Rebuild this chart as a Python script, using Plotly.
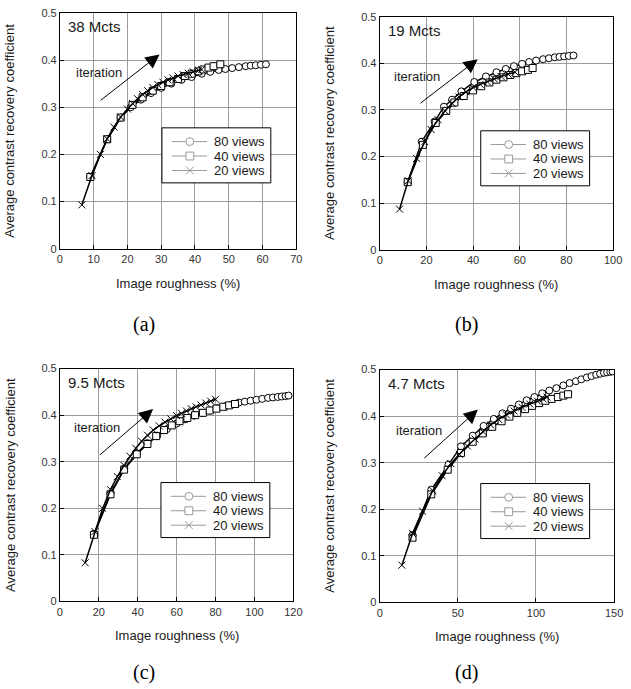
import plotly.graph_objects as go

# ---------------- data ----------------
panel_titles = ["38 Mcts", "19 Mcts", "9.5 Mcts", "4.7 Mcts"]
captions = ["(a)", "(b)", "(c)", "(d)"]
series_names = ["80 views", "40 views", "20 views"]
x_ranges = [[0, 70], [0, 100], [0, 120], [0, 150]]
x_dticks = [10, 20, 20, 50]

# Panel (a) 38 Mcts
a80_x = [9.0, 14.0, 18.0, 21.0, 24.0, 27.0, 30.0, 33.0, 36.0, 39.0, 42.0, 44.5, 47.0, 49.0, 51.0, 53.0, 55.0, 56.5, 58.0, 59.5, 61.0]
a80_y = [0.152, 0.232, 0.278, 0.300, 0.316, 0.330, 0.341, 0.350, 0.358, 0.364, 0.371, 0.375, 0.379, 0.381, 0.383, 0.385, 0.387, 0.388, 0.389, 0.390, 0.391]
a40_x = [9.0, 14.0, 18.0, 21.5, 24.5, 27.5, 30.0, 32.5, 35.0, 37.0, 39.0, 41.0, 42.5, 44.0, 45.5, 47.5]
a40_y = [0.152, 0.232, 0.278, 0.305, 0.321, 0.335, 0.345, 0.353, 0.360, 0.366, 0.371, 0.376, 0.380, 0.384, 0.387, 0.391]
a20_x = [6.5, 9.5, 12.0, 14.0, 16.0, 18.0, 20.0, 21.5, 23.0, 24.5, 26.0, 27.5, 29.0, 30.5, 32.0, 33.5, 35.0, 36.5, 38.0, 39.5, 41.0, 42.0]
a20_y = [0.093, 0.155, 0.200, 0.233, 0.258, 0.279, 0.296, 0.308, 0.318, 0.327, 0.335, 0.342, 0.348, 0.353, 0.358, 0.362, 0.366, 0.369, 0.372, 0.375, 0.378, 0.380]

# Panel (b) 19 Mcts
b80_x = [12.0, 18.0, 23.5, 27.5, 31.0, 35.0, 40.5, 45.5, 50.0, 54.0, 57.5, 61.0, 64.0, 67.0, 70.0, 72.5, 75.0, 77.0, 79.0, 81.0, 83.0]
b80_y = [0.145, 0.232, 0.275, 0.307, 0.322, 0.340, 0.360, 0.372, 0.381, 0.388, 0.394, 0.399, 0.403, 0.406, 0.409, 0.411, 0.413, 0.414, 0.415, 0.416, 0.417]
b40_x = [12.0, 18.5, 24.0, 28.5, 32.0, 36.0, 40.0, 43.5, 47.0, 50.0, 53.0, 56.0, 58.5, 61.0, 63.5, 65.5]
b40_y = [0.145, 0.225, 0.272, 0.298, 0.316, 0.330, 0.342, 0.351, 0.359, 0.365, 0.370, 0.375, 0.379, 0.383, 0.386, 0.390]
b20_x = [8.5, 12.2, 15.8, 19.3, 22.0, 25.0, 28.0, 31.0, 34.0, 37.0, 40.0, 43.0, 46.0, 49.0, 52.0, 55.0, 58.0]
b20_y = [0.087, 0.148, 0.196, 0.232, 0.258, 0.279, 0.298, 0.314, 0.328, 0.339, 0.348, 0.355, 0.361, 0.367, 0.372, 0.377, 0.381]

# Panel (c) 9.5 Mcts
c80_x = [17.5, 26.0, 33.0, 39.5, 45.0, 50.0, 55.0, 60.0, 64.5, 69.0, 73.0, 77.0, 81.0, 85.0, 88.5, 92.0, 95.0, 98.0, 101.0, 104.0, 107.0, 109.5, 112.0, 114.0, 116.0, 117.5]
c80_y = [0.145, 0.232, 0.285, 0.318, 0.340, 0.356, 0.370, 0.382, 0.391, 0.399, 0.405, 0.410, 0.415, 0.419, 0.423, 0.427, 0.429, 0.431, 0.433, 0.435, 0.437, 0.438, 0.439, 0.440, 0.441, 0.442]
c40_x = [17.5, 26.0, 33.0, 39.5, 45.0, 49.5, 53.5, 57.5, 61.5, 65.5, 69.5, 73.5, 77.0, 80.5, 84.0, 87.0, 90.0]
c40_y = [0.143, 0.230, 0.283, 0.316, 0.338, 0.355, 0.368, 0.378, 0.387, 0.394, 0.400, 0.405, 0.410, 0.414, 0.418, 0.421, 0.424]
c20_x = [13.0, 18.0, 22.0, 26.0, 29.5, 33.0, 36.0, 39.0, 42.0, 45.0, 48.0, 51.0, 54.0, 57.0, 60.0, 62.5, 65.0, 67.5, 70.0, 72.5, 75.0, 77.5, 80.0]
c20_y = [0.083, 0.150, 0.200, 0.240, 0.268, 0.292, 0.312, 0.329, 0.344, 0.357, 0.368, 0.377, 0.385, 0.392, 0.399, 0.404, 0.409, 0.414, 0.418, 0.422, 0.426, 0.430, 0.434]

# Panel (d) 4.7 Mcts
d80_x = [21.0, 33.0, 44.0, 52.0, 59.5, 66.5, 73.0, 78.5, 84.0, 89.0, 94.0, 99.0, 104.0, 108.5, 113.0, 117.5, 121.5, 125.5, 129.0, 132.5, 135.5, 138.5, 141.0, 143.5, 145.5, 147.5, 149.0]
d80_y = [0.145, 0.242, 0.296, 0.335, 0.358, 0.379, 0.394, 0.406, 0.416, 0.425, 0.434, 0.441, 0.449, 0.455, 0.460, 0.466, 0.471, 0.475, 0.479, 0.483, 0.486, 0.489, 0.491, 0.493, 0.494, 0.495, 0.496]
d40_x = [21.0, 33.0, 43.5, 52.0, 59.5, 66.0, 72.0, 78.0, 83.0, 88.0, 93.0, 97.5, 102.0, 106.0, 110.0, 114.0, 117.5, 120.5]
d40_y = [0.139, 0.232, 0.285, 0.321, 0.345, 0.363, 0.377, 0.389, 0.399, 0.407, 0.415, 0.422, 0.428, 0.433, 0.437, 0.441, 0.444, 0.447]
d20_x = [14.2, 21.0, 27.4, 34.0, 40.0, 45.5, 51.0, 56.0, 61.0, 66.0, 71.0, 76.0, 81.0, 86.0, 91.0, 96.0, 101.0, 104.5, 107.0]
d20_y = [0.080, 0.148, 0.196, 0.240, 0.272, 0.298, 0.318, 0.336, 0.351, 0.367, 0.381, 0.393, 0.403, 0.411, 0.419, 0.426, 0.432, 0.437, 0.441]

panels = [
    [(a80_x, a80_y), (a40_x, a40_y), (a20_x, a20_y)],
    [(b80_x, b80_y), (b40_x, b40_y), (b20_x, b20_y)],
    [(c80_x, c80_y), (c40_x, c40_y), (c20_x, c20_y)],
    [(d80_x, d80_y), (d40_x, d40_y), (d20_x, d20_y)],
]

# iteration arrows: (tail_x, tail_y, head_x, head_y, label_x, label_y) in data units
arrows = [
    (11.6, 0.312, 29.5, 0.412, 11.6, 0.374),
    (16.8, 0.312, 42.0, 0.409, 16.0, 0.372),
    (19.8, 0.312, 47.9, 0.413, 19.3, 0.373),
    (27.6, 0.307, 62.8, 0.414, 25.0, 0.369),
]

# ---------------- layout geometry (pixels) ----------------
W, H = 631, 689
boxes = [(58, 299, 7, 247), (384, 622, 11, 248), (58, 296, 369, 606), (384, 623, 370, 607)]
legend_pos = [(162, 124), (487, 127), (161, 485), (487, 486)]
LEG_W, LEG_H = 111, 56
ytitle_x = [7, 333, 7, 333]
caption_pos = [(144, 324), (472, 324), (144, 678), (472, 678)]

FONT = "Liberation Sans, Arial, sans-serif"
TXT = "#1a1a1a"
GRAY = "#9a9a9a"


def px(x):
    return x / W


def py(y):
    return 1 - y / H


symbols = ["circle", "square", "x-thin-open"]
fig = go.Figure()

for p, series in enumerate(panels):
    xa = "x" if p == 0 else f"x{p+1}"
    ya = "y" if p == 0 else f"y{p+1}"
    for s, (xs, ys) in enumerate(series):
        marker = dict(symbol=symbols[s], size=7, color="white" if s < 2 else "black",
                      line=dict(color="black", width=1))
        fig.add_trace(go.Scatter(x=xs, y=ys, mode="lines+markers", xaxis=xa, yaxis=ya,
                                 line=dict(color="black", width=1.5), marker=marker,
                                 showlegend=False, name=series_names[s]))

layout = dict(width=W, height=H, margin=dict(l=0, r=0, t=0, b=0),
              paper_bgcolor="white", plot_bgcolor="white",
              font=dict(family=FONT, color=TXT, size=11), showlegend=False)

annotations = []
shapes = []
for p in range(4):
    l, r, t, b = boxes[p]
    sfx = "" if p == 0 else str(p + 1)
    axcommon = dict(showline=True, linecolor="black", linewidth=1, mirror=True,
                    showgrid=True, gridcolor="#9c9c9c", gridwidth=1,
                    ticks="inside", ticklen=4, tickcolor="black", zeroline=False,
                    tickfont=dict(family=FONT, size=11, color="#333333"))
    layout["xaxis" + sfx] = dict(domain=[l / W, r / W], anchor="y" + sfx,
                                 range=x_ranges[p], dtick=x_dticks[p], tick0=0, **axcommon)
    layout["yaxis" + sfx] = dict(domain=[1 - b / H, 1 - t / H], anchor="x" + sfx,
                                 range=[0, 0.5], dtick=0.1, tick0=0, **axcommon)
    xref = "x" + sfx
    yref = "y" + sfx
    tx, ty, hx, hy, lbx, lby = arrows[p]
    annotations.append(dict(x=hx, y=hy, ax=tx, ay=ty, xref=xref, yref=yref, axref=xref, ayref=yref,
                            text="", showarrow=True, arrowhead=2, arrowsize=2.8, arrowwidth=1,
                            arrowcolor="black"))
    annotations.append(dict(x=lbx, y=lby, xref=xref, yref=yref, text="iteration", showarrow=False,
                            font=dict(family=FONT, size=13, color=TXT)))
    annotations.append(dict(x=px(l + 6), y=py(t + 14), xref="paper", yref="paper",
                            xanchor="left", yanchor="middle", text=panel_titles[p], showarrow=False,
                            font=dict(family=FONT, size=15, color=TXT)))
    annotations.append(dict(x=px((l + r) / 2), y=py(b + 35), xref="paper", yref="paper",
                            xanchor="center", yanchor="middle", text="Image roughness (%)",
                            showarrow=False, font=dict(family=FONT, size=13, color=TXT)))
    annotations.append(dict(x=px(ytitle_x[p]), y=py((t + b) / 2), xref="paper", yref="paper",
                            xanchor="center", yanchor="middle", textangle=-90,
                            text="Average contrast recovery coefficient",
                            showarrow=False, font=dict(family=FONT, size=13, color=TXT)))
    cx, cy = caption_pos[p]
    annotations.append(dict(x=px(cx), y=py(cy), xref="paper", yref="paper",
                            xanchor="center", yanchor="middle", text=captions[p], showarrow=False,
                            font=dict(family="Liberation Serif, Times New Roman, serif", size=20,
                                      color="black")))

    # legend box drawn with shapes
    lx, ly = legend_pos[p]
    shapes.append(dict(type="rect", xref="paper", yref="paper", layer="above",
                       x0=px(lx), x1=px(lx + LEG_W), y0=py(ly), y1=py(ly + LEG_H),
                       fillcolor="white", line=dict(color="black", width=1)))
    for s in range(3):
        ry = ly + 14 + s * 14.7
        shapes.append(dict(type="line", xref="paper", yref="paper", layer="above",
                           x0=px(lx + 10), x1=px(lx + 46), y0=py(ry), y1=py(ry),
                           line=dict(color=GRAY, width=1)))
        mx = lx + 28.5
        hs = 4
        if s == 0:
            shapes.append(dict(type="circle", xref="paper", yref="paper", layer="above",
                               x0=px(mx - hs), x1=px(mx + hs), y0=py(ry - hs), y1=py(ry + hs),
                               fillcolor="white", line=dict(color=GRAY, width=1)))
        elif s == 1:
            shapes.append(dict(type="rect", xref="paper", yref="paper", layer="above",
                               x0=px(mx - hs), x1=px(mx + hs), y0=py(ry - hs), y1=py(ry + hs),
                               fillcolor="white", line=dict(color=GRAY, width=1)))
        else:
            shapes.append(dict(type="line", xref="paper", yref="paper", layer="above",
                               x0=px(mx - hs), x1=px(mx + hs), y0=py(ry - hs), y1=py(ry + hs),
                               line=dict(color=GRAY, width=1)))
            shapes.append(dict(type="line", xref="paper", yref="paper", layer="above",
                               x0=px(mx - hs), x1=px(mx + hs), y0=py(ry + hs), y1=py(ry - hs),
                               line=dict(color=GRAY, width=1)))
        annotations.append(dict(x=px(lx + 51), y=py(ry), xref="paper", yref="paper",
                                xanchor="left", yanchor="middle", text=series_names[s],
                                showarrow=False, font=dict(family=FONT, size=13, color=TXT)))

layout["annotations"] = annotations
layout["shapes"] = shapes
fig.update_layout(**layout)
fig.write_html("out.html", config={"displayModeBar": False},
               post_script="document.body.style.margin='0';")
